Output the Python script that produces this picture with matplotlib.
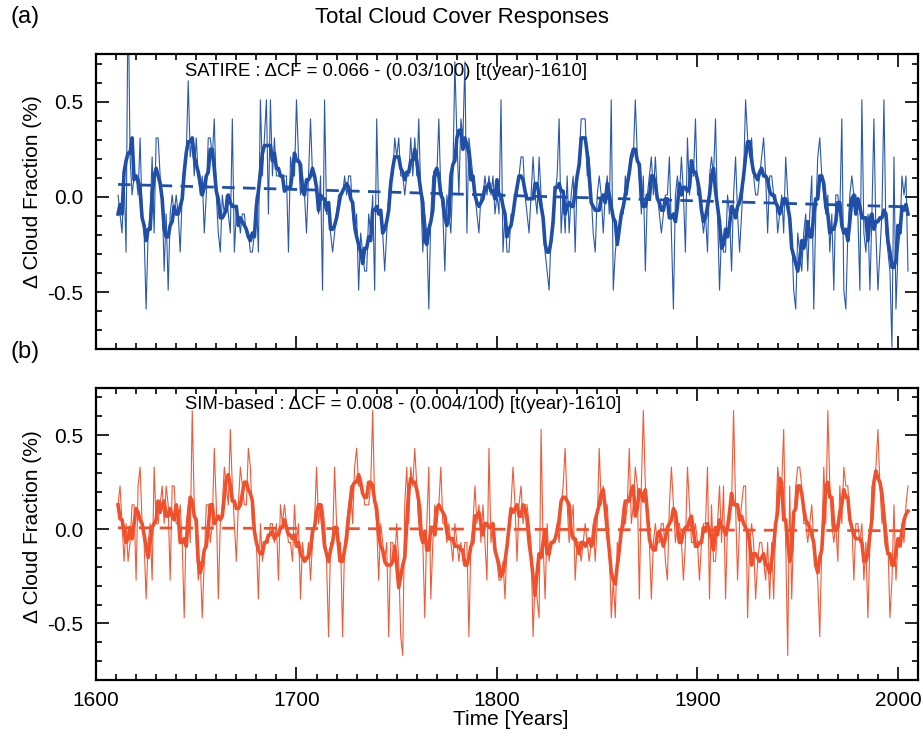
import numpy as np
import pandas as pd
import matplotlib
matplotlib.use("Agg")
import matplotlib.pyplot as plt
from matplotlib.ticker import MultipleLocator, FormatStrFormatter

plt.rcParams['font.family'] = ['Liberation Sans', 'DejaVu Sans']
plt.rcParams['axes.unicode_minus'] = False

# years of the annual series
years = np.arange(1611, 2006)

# SATIRE-based total cloud cover response (% cloud fraction), one row per decade
satire_cf = [
    0.01, -0.09, -0.19, 0.11, -0.29, 1.11, 0.21, 0.01, 0.11, 0.11,
    0.01, 0.31, -0.09, -0.19, -0.59, -0.19, -0.09, 0.21, -0.19, 0.31,
    0.31, 0.11, 0.01, -0.39, -0.09, -0.49, -0.09, 0.01, -0.09, 0.01,
    -0.09, -0.29, 0.01, 0.11, 0.21, 0.61, 0.21, 0.31, 0.11, 0.31,
    0.11, 0.01, 0.11, -0.19, 0.01, 0.31, 0.31, 0.21, 0.41, 0.01,
    -0.19, -0.29, 0.01, -0.09, 0.01, -0.09, -0.19, 0.41, -0.29, -0.09,
    -0.09, -0.19, -0.09, -0.09, -0.19, -0.19, -0.29, -0.29, -0.19, 0.01,
    -0.29, 0.51, 0.11, 0.31, 0.51, -0.09, 0.51, 0.11, 0.31, 0.11,
    0.11, 0.11, 0.11, 0.11, 0.11, -0.29, 0.21, 0.11, 0.11, 0.51,
    0.21, 0.01, 0.11, 0.01, -0.19, 0.11, 0.41, 0.11, 0.11, 0.01,
    -0.09, 0.11, -0.49, 0.51, -0.09, -0.09, -0.19, -0.29, -0.19, -0.09,
    0.01, 0.01, 0.01, 0.11, 0.01, 0.11, 0.11, -0.09, -0.19, -0.09,
    -0.49, -0.19, -0.29, -0.39, -0.39, -0.09, -0.19, 0.01, -0.49, 0.41,
    -0.09, -0.09, -0.19, -0.39, -0.19, 0.01, 0.11, 0.11, 0.31, 0.21,
    0.31, 0.11, 0.11, 0.01, 0.11, 0.11, 0.31, 0.11, 0.31, 0.11,
    0.41, 0.01, -0.29, -0.09, -0.19, -0.59, -0.09, 0.11, 0.11, 0.11,
    0.41, 0.01, -0.09, -0.39, 0.01, -0.09, -0.19, 0.11, 0.71, 0.31,
    0.01, 0.41, 0.31, 0.71, -0.19, 0.31, 0.21, 0.11, 0.01, -0.09,
    -0.19, 0.01, 0.01, 0.11, 0.01, 0.11, 0.01, 0.11, -0.09, 0.01,
    -0.09, 0.51, -0.29, -0.09, -0.29, -0.29, -0.09, -0.09, 0.01, 0.01,
    0.11, 0.21, 0.21, 0.01, -0.09, -0.19, 0.01, 0.21, 0.01, -0.09,
    0.21, 0.01, -0.09, -0.29, -0.39, -0.49, -0.19, -0.09, 0.01, 0.11,
    0.41, -0.19, 0.01, -0.19, 0.11, -0.19, 0.01, 0.11, -0.29, 0.11,
    0.21, 0.41, 0.41, 0.41, 0.11, 0.21, 0.01, -0.19, -0.29, 0.01,
    0.11, 0.01, -0.19, 0.01, 0.11, -0.09, 0.51, -0.49, -0.29, -0.19,
    -0.19, -0.09, -0.09, 0.11, 0.01, 0.11, 0.21, 0.21, 0.51, 0.21,
    0.11, -0.09, 0.11, -0.39, 0.01, 0.11, 0.21, 0.01, 0.21, 0.01,
    -0.09, -0.19, -0.09, 0.01, 0.01, 0.21, -0.19, -0.59, 0.01, 0.11,
    0.01, 0.21, 0.01, -0.29, 0.31, 0.01, 0.11, 0.11, 0.41, 0.01,
    0.01, -0.09, -0.19, -0.09, -0.29, 0.11, 0.21, 0.11, 0.41, -0.09,
    -0.49, -0.19, -0.29, -0.29, 0.01, -0.09, -0.39, 0.01, 0.21, -0.09,
    -0.29, -0.09, 0.11, 0.51, 0.31, 0.21, 0.31, 0.11, 0.01, 0.01,
    0.11, 0.21, 0.31, 0.11, -0.19, 0.11, 0.11, 0.01, 0.01, -0.19,
    -0.09, 0.01, -0.19, 0.21, 0.01, -0.09, -0.19, -0.49, -0.59, -0.19,
    -0.29, -0.39, -0.19, -0.09, -0.39, -0.09, 0.11, -0.59, -0.09, 0.21,
    0.31, 0.11, 0.01, -0.09, 0.01, -0.29, -0.09, -0.49, 0.01, 0.01,
    -0.09, 0.41, -0.49, -0.59, -0.19, 0.01, 0.11, 0.01, 0.01, -0.09,
    -0.49, 0.51, -0.19, -0.29, -0.09, -0.49, -0.09, 0.41, -0.19, -0.49,
    -0.29, -0.09, 0.51, -0.19, -0.29, -0.39, -0.79, 0.21, -0.59, -0.29,
    -0.19, 0.11, 0.01, 0.11, -0.39,
]

# SIM-based total cloud cover response (% cloud fraction)
sim_cf = [
    0.13, 0.23, 0.03, -0.17, 0.03, -0.17, -0.07, 0.13, 0.13, -0.27,
    0.23, 0.33, 0.03, -0.07, -0.37, -0.07, 0.03, -0.27, 0.33, 0.03,
    0.03, 0.13, 0.23, 0.03, 0.23, 0.13, -0.27, 0.23, 0.23, 0.03,
    0.03, 0.13, -0.07, -0.47, 0.03, 0.13, -0.07, 0.63, 0.13, -0.07,
    -0.27, -0.17, -0.47, -0.17, 0.13, 0.13, -0.07, 0.03, 0.43, 0.13,
    -0.37, 0.03, 0.13, 0.33, 0.23, 0.13, 0.53, 0.23, 0.03, -0.17,
    0.13, 0.33, 0.23, 0.13, 0.13, 0.43, 0.33, 0.03, 0.03, -0.07,
    -0.37, 0.03, -0.17, -0.07, -0.07, -0.07, 0.03, 0.03, -0.07, 0.03,
    -0.27, 0.13, 0.03, 0.13, 0.03, -0.07, -0.07, -0.17, 0.13, -0.07,
    0.03, -0.37, -0.07, -0.17, -0.17, -0.07, -0.27, -0.07, 0.03, 0.33,
    0.03, 0.13, 0.13, 0.03, -0.17, -0.57, -0.07, -0.07, 0.33, 0.03,
    -0.17, -0.07, -0.57, -0.07, 0.03, 0.13, 0.23, 0.03, 0.33, 0.43,
    0.23, 0.23, 0.23, 0.13, 0.13, 0.13, 0.23, 0.63, 0.13, 0.03,
    -0.27, 0.03, -0.07, -0.17, -0.07, -0.57, -0.07, -0.07, -0.17, 0.03,
    -0.17, -0.57, -0.67, 0.13, 0.33, 0.03, 0.33, 0.23, 0.43, 0.23,
    0.03, 0.13, -0.07, -0.47, 0.03, 0.33, -0.37, -0.07, 0.13, 0.03,
    0.13, 0.33, 0.03, 0.03, -0.07, 0.03, -0.07, -0.17, 0.03, -0.07,
    -0.17, -0.07, -0.17, -0.07, -0.07, -0.57, -0.07, 0.03, 0.23, 0.03,
    0.13, -0.07, 0.13, -0.07, -0.27, 0.43, -0.07, 0.03, -0.07, -0.17,
    -0.27, -0.27, -0.17, -0.37, -0.07, 0.03, 0.13, 0.33, 0.13, -0.17,
    0.13, 0.23, 0.03, 0.13, 0.13, 0.03, -0.07, -0.57, -0.27, -0.37,
    -0.47, 0.53, -0.07, -0.37, 0.03, -0.17, -0.07, -0.07, -0.07, 0.03,
    -0.07, 0.13, 0.23, 0.43, 0.13, -0.07, 0.03, 0.13, -0.27, -0.07,
    -0.07, -0.17, -0.07, 0.03, -0.07, -0.17, -0.07, 0.03, -0.17, 0.03,
    0.43, 0.13, 0.23, 0.13, 0.13, -0.07, -0.47, -0.27, -0.47, -0.07,
    -0.17, 0.03, 0.13, 0.03, 0.13, 0.43, 0.03, 0.13, 0.33, 0.23,
    -0.37, 0.23, 0.63, 0.23, 0.03, -0.07, -0.37, -0.07, 0.03, -0.07,
    -0.07, 0.03, 0.03, -0.17, -0.27, 0.13, 0.33, 0.13, -0.07, 0.03,
    0.03, -0.07, -0.27, -0.07, 0.33, 0.13, -0.07, -0.07, 0.03, -0.07,
    -0.27, -0.07, 0.03, 0.03, 0.33, -0.37, 0.13, -0.17, -0.17, 0.03,
    0.23, -0.07, 0.23, -0.37, 0.03, 0.03, 0.13, 0.63, 0.13, -0.27,
    0.03, 0.13, 0.23, 0.23, -0.47, -0.07, 0.03, -0.07, -0.37, -0.17,
    -0.07, -0.07, -0.17, -0.27, -0.07, -0.37, -0.07, -0.37, 0.03, 0.33,
    0.23, 0.23, 0.53, -0.07, -0.67, 0.23, -0.37, 0.03, 0.23, 0.33,
    0.33, 0.23, 0.03, 0.03, -0.07, 0.03, 0.13, -0.07, -0.17, -0.27,
    -0.57, -0.07, 0.33, 0.03, 0.63, 0.23, 0.03, -0.07, 0.03, -0.17,
    0.23, 0.03, 0.33, 0.23, 0.23, 0.03, 0.03, -0.27, 0.03, 0.03,
    -0.07, 0.03, -0.27, -0.07, -0.47, -0.07, 0.23, 0.23, 0.33, 0.53,
    0.23, 0.03, 0.13, 0.03, -0.07, -0.47, -0.27, 0.13, -0.27, -0.07,
    -0.07, 0.03, -0.07, 0.13, 0.23,
]

# linear fits quoted in the panels: dCF = a - (b/100) (t - 1610)
satire_fit = (0.066, 0.03)
sim_fit = (0.008, 0.004)

blue = '#1f4fa6'
red = '#f0512d'

fig = plt.figure(figsize=(9.23, 7.46), dpi=100)
ax1 = fig.add_axes([0.104, 0.532, 0.8906, 0.3954])
ax2 = fig.add_axes([0.104, 0.0885, 0.8906, 0.3914])

panels = [
    (ax1, satire_cf, satire_fit, blue, 'SATIRE : \u0394CF = 0.066 - (0.03/100) [t(year)-1610]'),
    (ax2, sim_cf, sim_fit, red, 'SIM-based : \u0394CF = 0.008 - (0.004/100) [t(year)-1610]'),
]

for ax, cf, fit, col, txt in panels:
    cf = np.array(cf)
    smooth = pd.Series(cf).rolling(5, center=True, min_periods=1).mean().values
    trend = fit[0] - fit[1] / 100.0 * (years - 1610)
    ax.plot(years, cf, color=col, lw=0.8, alpha=0.95)
    ax.plot(years, smooth, color=col, lw=2.6, solid_joinstyle='round')
    ax.plot(years, trend, color=col, lw=2.0, ls=(0, (4.5, 3)))
    ax.set_xlim(1600, 2010)
    ax.set_ylim(-0.8, 0.75)
    ax.xaxis.set_major_locator(MultipleLocator(100))
    ax.xaxis.set_minor_locator(MultipleLocator(10))
    ax.yaxis.set_major_locator(MultipleLocator(0.5))
    ax.yaxis.set_minor_locator(MultipleLocator(0.1))
    ax.yaxis.set_major_formatter(FormatStrFormatter('%.1f'))
    ax.tick_params(which='both', direction='in', top=True, right=True,
                   width=1.2, labelsize=15)
    ax.tick_params(which='major', length=9.5)
    ax.tick_params(which='minor', length=4.5)
    ax.tick_params(axis='x', pad=8)
    ax.tick_params(axis='y', pad=9)
    for sp in ax.spines.values():
        sp.set_linewidth(1.6)
    ax.text(0.108, 0.942, txt, transform=ax.transAxes, fontsize=13.3,
            ha='left', va='center')

ax1.tick_params(axis='x', labelbottom=False)

fig.text(0.5, 0.976, 'Total Cloud Cover Responses', fontsize=16,
         ha='center', va='center')
fig.text(0.011, 0.977, '(a)', fontsize=17, ha='left', va='center')
fig.text(0.011, 0.528, '(b)', fontsize=17, ha='left', va='center')
fig.text(0.035, 0.743, '\u0394 Cloud Fraction (%)', fontsize=15,
         rotation=90, ha='center', va='center')
fig.text(0.035, 0.294, '\u0394 Cloud Fraction (%)', fontsize=15,
         rotation=90, ha='center', va='center')
fig.text(0.553, 0.035, 'Time [Years]', fontsize=15, ha='center', va='center')

fig.savefig('out.png', dpi=100)
